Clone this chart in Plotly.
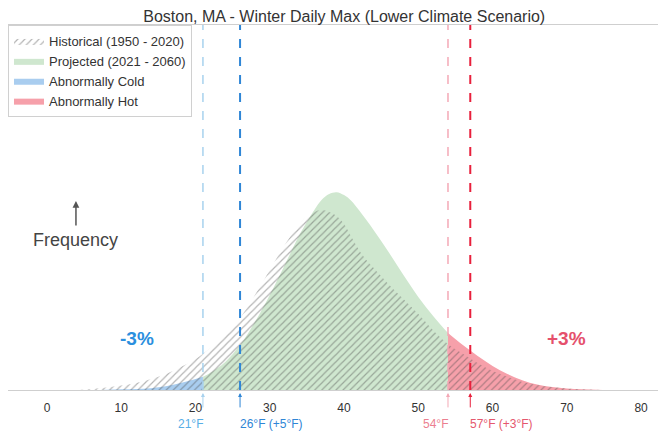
import plotly.graph_objects as go

# ---------------- data ----------------
TITLE = "Boston, MA - Winter Daily Max (Lower Climate Scenario)"

hist_x = [4, 6, 8, 10, 12, 14, 16, 18, 20, 22, 24, 26, 28, 30, 32, 34, 35, 36, 37, 38, 39, 40,
          41, 42, 43, 44, 46, 48, 50, 52, 54, 56, 58, 60, 62, 64, 66, 68, 70, 72, 74, 76]
hist_y = [0, 0.03, 0.07, 0.12, 0.19, 0.30, 0.44, 0.63, 0.85, 1.15, 1.51, 1.97, 2.60, 3.29, 3.97,
          4.55, 4.77, 4.88, 4.93, 4.88, 4.77, 4.55, 4.19, 3.84, 3.56, 3.34, 2.90, 2.49, 2.08, 1.64,
          1.26, 0.99, 0.74, 0.52, 0.36, 0.22, 0.14, 0.08, 0.04, 0.02, 0.01, 0]

proj_x = [6, 8, 10, 12, 14, 16, 18, 20, 21, 22, 24, 26, 28, 30, 32, 34, 36, 37, 38, 39, 40,
          41, 42, 44, 46, 48, 50, 52, 54, 56, 58, 60, 62, 64, 66, 68, 70, 72, 74, 76]
proj_y = [0, 0.01, 0.02, 0.03, 0.05, 0.10, 0.19, 0.30, 0.36, 0.47, 0.77, 1.23, 1.86, 2.60, 3.42,
          4.25, 4.93, 5.21, 5.37, 5.42, 5.34, 5.18, 4.93, 4.38, 3.78, 3.15, 2.55, 2.03, 1.56, 1.23,
          0.93, 0.66, 0.44, 0.27, 0.15, 0.08, 0.04, 0.02, 0.01, 0]

cold_hist, cold_proj = 21, 26
hot_hist, hot_proj = 54, 57
threshold_labels = ["21°F", "26°F (+5°F)", "54°F", "57°F (+3°F)"]
cold_change, hot_change = "-3%", "+3%"

x_ticks = [0, 10, 20, 30, 40, 50, 60, 70, 80]

# ---------------- colours ----------------
GREEN = "#cfe7cf"
BLUE = "#a9cdef"
RED = "#f6a0aa"
LIGHT_BLUE = "#a8d2ee"
DARK_BLUE = "#2f86d6"
LIGHT_RED = "#f4a9b6"
DARK_RED = "#e8203c"
TEXT_BLUE = "#2b8fde"
TEXT_RED = "#e5506c"

PLOT_H = 365  # plot area height in px, used to place paper-referenced labels


def segment(xs, ys, lo, hi):
    px, py = [], []
    for a, b in zip(xs, ys):
        if lo <= a <= hi:
            px.append(a)
            py.append(b)
    return px, py


fig = go.Figure()

cx, cy = segment(proj_x, proj_y, -100, cold_hist)
mx, my = segment(proj_x, proj_y, cold_hist, hot_hist)
hx, hy = segment(proj_x, proj_y, hot_hist, 200)

fig.add_trace(go.Scatter(x=mx, y=my, mode="lines", line=dict(width=0, shape="spline"),
                         fill="tozeroy", fillcolor=GREEN, name="Projected (2021 - 2060)",
                         legendrank=2))
fig.add_trace(go.Scatter(x=cx, y=cy, mode="lines", line=dict(width=0, shape="spline"),
                         fill="tozeroy", fillcolor=BLUE, name="Abnormally Cold", legendrank=3))
fig.add_trace(go.Scatter(x=hx, y=hy, mode="lines", line=dict(width=0, shape="spline"),
                         fill="tozeroy", fillcolor=RED, name="Abnormally Hot", legendrank=4))
fig.add_trace(go.Scatter(x=hist_x, y=hist_y, mode="lines", line=dict(width=0, shape="spline"),
                         fill="tozeroy", fillcolor="rgba(0,0,0,0)",
                         fillpattern=dict(shape="/", fgcolor="rgba(75,75,75,0.85)",
                                          bgcolor="rgba(0,0,0,0)", size=5, solidity=0.24),
                         name="Historical (1950 - 2020)", legendrank=1))

# vertical threshold lines
line_specs = [
    (cold_hist, LIGHT_BLUE, 1.5, "dash"),
    (cold_proj, DARK_BLUE, 2, "dash"),
    (hot_hist, LIGHT_RED, 1.5, "dash"),
    (hot_proj, DARK_RED, 2, "dash"),
]
for xv, col, w, d in line_specs:
    fig.add_shape(type="line", xref="x", yref="paper", x0=xv, x1=xv, y0=0, y1=1,
                  line=dict(color=col, width=w, dash=d), layer="above")
    fig.add_annotation(x=xv, y=-0.008, xref="x", yref="paper", text="", showarrow=True,
                       arrowhead=2, arrowsize=0.8, arrowwidth=1, arrowcolor=col,
                       ax=0, ay=16)

label_specs = [
    (cold_hist, threshold_labels[0], "right", "#58aee6"),
    (cold_proj, threshold_labels[1], "left", DARK_BLUE),
    (hot_hist, threshold_labels[2], "right", "#ec7f90"),
    (hot_proj, threshold_labels[3], "left", "#e5586e"),
]
for xv, txt, anchor, col in label_specs:
    fig.add_annotation(x=xv, y=-34 / PLOT_H, xref="x", yref="paper", text=txt, showarrow=False,
                       xanchor=anchor, yanchor="middle", xshift=(2 if anchor == "right" else -2),
                       font=dict(size=12, color=col))

fig.add_annotation(x=12.1, y=52 / PLOT_H, xref="x", yref="paper", text="<b>" + cold_change + "</b>",
                   showarrow=False, font=dict(size=19, color=TEXT_BLUE),
                   xanchor="center", yanchor="middle")
fig.add_annotation(x=69.9, y=52 / PLOT_H, xref="x", yref="paper", text="<b>" + hot_change + "</b>",
                   showarrow=False, font=dict(size=19, color=TEXT_RED),
                   xanchor="center", yanchor="middle")

# Frequency label with arrow
fig.add_annotation(x=3.9, y=150 / PLOT_H, xref="x", yref="paper", text="Frequency",
                   showarrow=False, font=dict(size=18, color="#444"), xanchor="center",
                   yanchor="middle")
fig.add_annotation(x=3.9, y=189 / PLOT_H, xref="x", yref="paper", text="", showarrow=True,
                   arrowhead=2, arrowsize=0.9, arrowwidth=1.5, arrowcolor="#555", ax=0, ay=26)

fig.update_layout(
    width=658, height=426,
    margin=dict(l=0, r=6, t=17, b=44),
    paper_bgcolor="white", plot_bgcolor="white",
    font=dict(family="Liberation Sans, Arial, sans-serif", color="#333"),
    title=dict(text=TITLE, x=0.511, xanchor="center", y=0.981, yanchor="middle",
               font=dict(size=16, color="#333")),
    showlegend=True,
    legend=dict(x=0.0, y=1.0, xanchor="left", yanchor="top", bgcolor="white",
                bordercolor="#d0d0d0", borderwidth=1, font=dict(size=13, color="#333"),
                itemwidth=30, tracegroupgap=0),
    xaxis=dict(range=[-5.25, 82.55], tickvals=x_ticks, ticktext=[str(t) for t in x_ticks],
               showgrid=False, zeroline=False, showline=True, linecolor="#cfcfcf",
               linewidth=1, mirror=True, ticks="", ticklabelstandoff=7,
               tickfont=dict(size=12, color="#333")),
    yaxis=dict(range=[0, 10], showgrid=False, zeroline=False, showticklabels=False,
               showline=True, linecolor="#ececec", mirror=True, ticks=""),
)

fig.write_html("out.html")
